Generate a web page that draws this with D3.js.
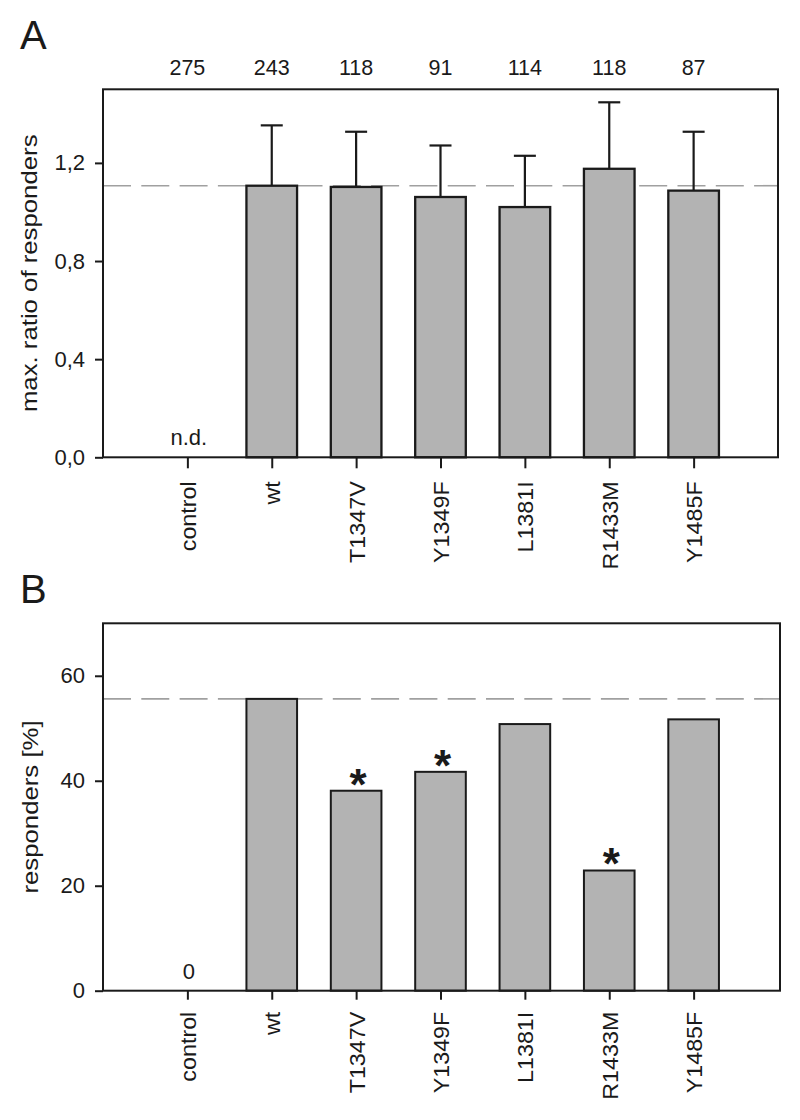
<!DOCTYPE html>
<html>
<head>
<meta charset="utf-8">
<script src="https://cdn.jsdelivr.net/npm/d3@7"></script>
<style>
  html, body { margin: 0; padding: 0; background: #fff; }
  svg { display: block; }
  text { font-family: "Liberation Sans", Arial, sans-serif; fill: #1a1a1a; }
</style>
</head>
<body>
<svg id="chart" width="800" height="1120"></svg>
<script>
// ---------------- data ----------------
const categories = ["control", "wt", "T1347V", "Y1349F", "L1381I", "R1433M", "Y1485F"];
const cellCounts = [275, 243, 118, 91, 114, 118, 87];
const ratioMean = [null, 1.107, 1.102, 1.061, 1.020, 1.176, 1.087];
const ratioSD = [null, 0.246, 0.225, 0.210, 0.209, 0.271, 0.240];
const respondersPct = [0, 55.6, 38.1, 41.7, 50.8, 22.9, 51.7];
const significant = [false, false, true, true, false, true, false];
const ratioTicks = [0, 0.4, 0.8, 1.2];
const responderTicks = [0, 20, 40, 60];
const ratioDomain = [0, 1.5];
const responderDomain = [0, 70];
const missingLabelA = "n.d.";
const zeroLabelB = "0";

// ---------------- layout ----------------
const svg = d3.select("#chart");
const left = 103, right = 778;
const x = d3.scalePoint().domain(categories).range([left, right]).padding(1);
const barW = x.step() * 0.6;
const barFill = "#b3b3b3", ink = "#1a1a1a", dashCol = "#a0a0a0";
const commaFmt = d3.formatLocale({decimal: ",", thousands: ".", grouping: [3], currency: ["", ""]}).format(".1f");

function panel(opts) {
  const g = svg.append("g");
  const y = d3.scaleLinear().domain(opts.domain).range([opts.bottom, opts.top]);

  // panel letter
  g.append("text").attr("x", 20).attr("y", opts.letterY)
    .style("font-size", "40px").text(opts.letter);

  // y axis
  const ya = g.append("g").attr("transform", `translate(${left},0)`)
    .call(d3.axisLeft(y).tickValues(opts.ticks).tickSize(8).tickPadding(10).tickFormat(opts.fmt));
  ya.select(".domain").remove();
  ya.selectAll(".tick line").attr("stroke", ink).attr("stroke-width", 2);
  ya.selectAll(".tick text").style("font-size", "22px").attr("fill", ink);

  // x axis
  const xa = g.append("g").attr("transform", `translate(0,${opts.bottom})`)
    .call(d3.axisBottom(x).tickSize(opts.xTick).tickSizeOuter(0));
  xa.select(".domain").remove();
  xa.selectAll(".tick line").attr("stroke", ink).attr("stroke-width", 2);
  const sx = 1.06;
  xa.selectAll(".tick text")
    .style("font-size", "22px").attr("fill", ink)
    .attr("text-anchor", "end")
    .attr("transform", `rotate(-90) scale(${sx},1)`)
    .attr("x", -opts.labelGap / sx).attr("y", 0).attr("dy", "0.36em");

  // y title
  g.append("text")
    .attr("transform", `translate(${opts.titleX},${(opts.top + opts.bottom) / 2}) rotate(-90) scale(1.12,1)`)
    .attr("text-anchor", "middle").style("font-size", "23px").text(opts.title);

  // reference dashed line
  g.append("line")
    .attr("x1", left).attr("x2", opts.frameRight)
    .attr("y1", y(opts.refValue)).attr("y2", y(opts.refValue))
    .attr("stroke", dashCol).attr("stroke-width", 1.6).attr("stroke-dasharray", "28,10.3");

  // error bars (upper)
  if (opts.sd) {
    const eb = g.append("g").selectAll("g")
      .data(categories.map((c, i) => ({c, v: opts.values[i], e: opts.sd[i]})).filter(d => d.v != null))
      .join("g");
    eb.append("line")
      .attr("x1", d => x(d.c)).attr("x2", d => x(d.c))
      .attr("y1", d => y(d.v)).attr("y2", d => y(d.v + d.e))
      .attr("stroke", ink).attr("stroke-width", 2.2);
    eb.append("line")
      .attr("x1", d => x(d.c) - 11).attr("x2", d => x(d.c) + 11)
      .attr("y1", d => y(d.v + d.e)).attr("y2", d => y(d.v + d.e))
      .attr("stroke", ink).attr("stroke-width", 2.2);
  }

  // bars
  g.append("g").selectAll("rect")
    .data(categories.map((c, i) => ({c, v: opts.values[i]})).filter(d => d.v != null && d.v > 0))
    .join("rect")
    .attr("x", d => x(d.c) - barW / 2).attr("width", barW)
    .attr("y", d => y(d.v)).attr("height", d => y(0) - y(d.v))
    .attr("fill", barFill).attr("stroke", ink).attr("stroke-width", opts.barStroke);

  // frame
  g.append("rect")
    .attr("x", left).attr("y", opts.top)
    .attr("width", opts.frameRight - left).attr("height", opts.bottom - opts.top)
    .attr("fill", "none").attr("stroke", ink).attr("stroke-width", 2);

  // label for the control column
  g.append("text")
    .attr("x", x(categories[0]) + 1.5).attr("y", y(0) - 12)
    .attr("text-anchor", "middle").style("font-size", "22px").text(opts.controlLabel);

  return {g, y};
}

// ---------------- panel A ----------------
const A = panel({
  letter: "A", letterY: 49,
  top: 89.3, bottom: 457.3, frameRight: 778,
  domain: ratioDomain, ticks: ratioTicks, fmt: commaFmt,
  xTick: 11, labelGap: 24,
  title: "max. ratio of responders", titleX: 37,
  refValue: ratioMean[1],
  values: ratioMean, sd: ratioSD, barStroke: 2.3,
  controlLabel: missingLabelA
});
A.g.append("g").selectAll("text")
  .data(categories.map((c, i) => ({c, n: cellCounts[i]})))
  .join("text")
  .attr("x", d => x(d.c)).attr("y", 75)
  .attr("text-anchor", "middle").style("font-size", "21.5px")
  .text(d => d.n);

// ---------------- panel B ----------------
const B = panel({
  letter: "B", letterY: 603,
  top: 623.3, bottom: 990.7, frameRight: 780,
  domain: responderDomain, ticks: responderTicks, fmt: d3.format("d"),
  xTick: 9, labelGap: 21,
  title: "responders [%]", titleX: 38,
  refValue: respondersPct[1],
  values: respondersPct, sd: null, barStroke: 2,
  controlLabel: zeroLabelB
});
B.g.append("g").selectAll("text")
  .data(categories.map((c, i) => ({c, v: respondersPct[i], s: significant[i]})).filter(d => d.s))
  .join("text")
  .attr("x", d => x(d.c) + 2).attr("y", d => B.y(d.v))
  .attr("dy", "0.2em")
  .attr("text-anchor", "middle")
  .style("font-size", "44px").style("font-weight", "bold")
  .text("*");
</script>
</body>
</html>
